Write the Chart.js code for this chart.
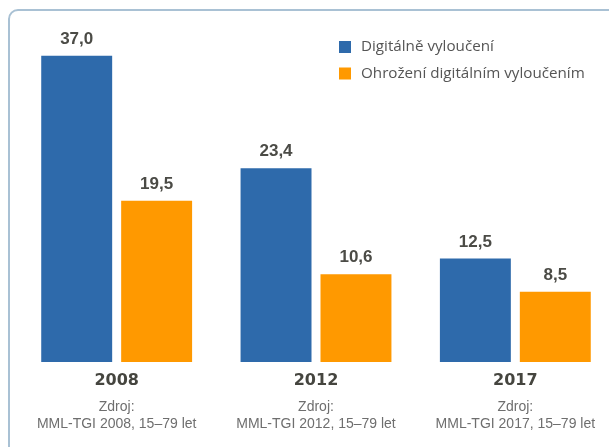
<!DOCTYPE html>
<html>
<head>
<meta charset="utf-8">
<script src="https://cdn.jsdelivr.net/npm/chart.js@4"></script>
<style>
  html, body { margin: 0; padding: 0; background: #fff; overflow: hidden; }
  #frame {
    position: absolute; left: 8px; top: 9px; width: 700px; height: 520px;
    border: 2px solid #a9c1d4; border-radius: 10px; box-sizing: border-box;
  }
  #wrap { position: absolute; left: 0; top: 0; width: 620px; height: 447px; }
</style>
</head>
<body>
<div id="frame"></div>
<div id="wrap"><canvas id="myChart"></canvas></div>
<script>
const years = ['2008', '2012', '2017'];
const sources = [
  ['Zdroj:', 'MML-TGI 2008, 15–79 let'],
  ['Zdroj:', 'MML-TGI 2012, 15–79 let'],
  ['Zdroj:', 'MML-TGI 2017, 15–79 let'],
];
const excluded = [37.0, 23.4, 12.5];
const atRisk = [19.5, 10.6, 8.5];

// value labels above each bar
const valueLabels = {
  id: 'valueLabels',
  afterDatasetsDraw(chart) {
    const ctx = chart.ctx;
    ctx.save();
    ctx.font = 'bold 17px "Liberation Sans"';
    ctx.fillStyle = '#4b4b46';
    ctx.textAlign = 'center';
    ctx.textBaseline = 'alphabetic';
    chart.data.datasets.forEach((ds, i) => {
      chart.getDatasetMeta(i).data.forEach((bar, j) => {
        ctx.fillText(ds.data[j].toFixed(1).replace('.', ','), bar.x, bar.y - 12);
      });
    });
    ctx.restore();
  }
};

// legend in the top right corner
const boxLegend = {
  id: 'boxLegend',
  afterDraw(chart) {
    const ctx = chart.ctx;
    ctx.save();
    ctx.font = '15.2px "Open Sans"';
    ctx.textBaseline = 'middle';
    chart.data.datasets.forEach((ds, i) => {
      const y = 47 + i * 26.5;
      ctx.fillStyle = ds.backgroundColor;
      ctx.fillRect(339, y - 6, 12, 12);
      ctx.fillStyle = '#555';
      ctx.fillText(ds.label, 361, y);
    });
    ctx.restore();
  }
};

const data = {
  labels: years,
  datasets: [
    {
      label: 'Digitálně vyloučení',
      backgroundColor: '#2e6aab',
      data: excluded,
    },
    {
      label: 'Ohrožení digitálním vyloučením',
      backgroundColor: '#ff9900',
      data: atRisk,
    }
  ]
};

const config = {
  type: 'bar',
  data: data,
  options: {
    responsive: true,
    maintainAspectRatio: false,
    animation: false,
    categoryPercentage: 0.802,
    barPercentage: 0.8875,
    layout: { padding: { left: 17, right: 5, top: 31, bottom: 14.8 } },
    plugins: {
      legend: { display: false },
      tooltip: { enabled: false },
    },
    scales: {
      x: {
        grid: { display: false, drawTicks: false },
        border: { display: false },
        ticks: {
          padding: 9,
          autoSkip: false,
          maxRotation: 0,
          color: '#45453f',
          font: { family: 'DejaVu Sans', size: 16, weight: 'bold', lineHeight: 1.2 },
        },
      },
      x2: {
        type: 'category',
        position: 'bottom',
        weight: 1,
        labels: sources,
        grid: { display: false, drawTicks: false },
        border: { display: false },
        ticks: {
          padding: -1,
          autoSkip: false,
          maxRotation: 0,
          color: '#6e6e6e',
          font: { family: 'Liberation Sans', size: 14, lineHeight: '17.5px' },
        },
      },
      y: {
        display: false,
        min: 0,
        max: 40,
      }
    }
  },
  plugins: [valueLabels, boxLegend]
};

const myChart = new Chart(document.getElementById('myChart'), config);
</script>
</body>
</html>
